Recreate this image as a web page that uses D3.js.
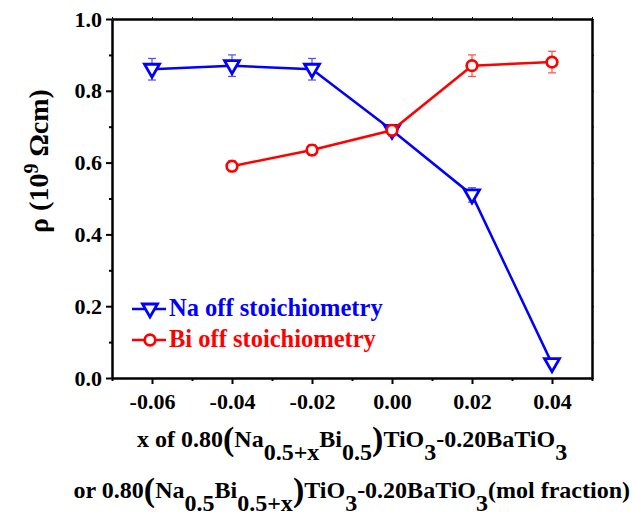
<!DOCTYPE html>
<html>
<head>
<meta charset="utf-8">
<script src="https://cdn.jsdelivr.net/npm/d3@7"></script>
<style>
  html, body { margin: 0; padding: 0; background: #fff; }
  svg { display: block; }
</style>
</head>
<body>
<svg id="chart" width="632" height="519"></svg>
<script>
// Composition (mol fraction offset x)
const naX = [-0.06, -0.04, -0.02, 0.00, 0.02, 0.04];
const naValues = [0.86, 0.87, 0.86, 0.69, 0.51, 0.04];
const naErrors = [0.03, 0.03, 0.03, 0.015, 0.02, 0.01];

const biX = [-0.04, -0.02, 0.00, 0.02, 0.04];
const biValues = [0.59, 0.635, 0.69, 0.87, 0.88];
const biErrors = [0.015, 0.015, 0.015, 0.03, 0.03];

const xTicks = [-0.06, -0.04, -0.02, 0.00, 0.02, 0.04];
const xTickLabels = ["-0.06", "-0.04", "-0.02", "0.00", "0.02", "0.04"];
const xMinorTicks = [-0.07, -0.05, -0.03, -0.01, 0.01, 0.03, 0.05];
const yTicks = [0.0, 0.2, 0.4, 0.6, 0.8, 1.0];
const yTickLabels = ["0.0", "0.2", "0.4", "0.6", "0.8", "1.0"];
const yMinorTicks = [0.1, 0.3, 0.5, 0.7, 0.9];

const seriesNames = ["Na off stoichiometry", "Bi off stoichiometry"];

const FONT = '"Liberation Serif", "Times New Roman", serif';
const BLUE = "#0000ff", RED = "#ff0000";
const svg = d3.select("#chart");
svg.append("rect").attr("width", 632).attr("height", 519).attr("fill", "#fff");

function serif(sel) { return sel.style("font-family", FONT).style("font-weight", "bold"); }

const x = d3.scaleLinear().domain([-0.07, 0.05]).range([112, 592]);
const y = d3.scaleLinear().domain([0, 1]).range([378, 19]);

// axes
const axisW = 2.5;
function styleAxis(g) {
  g.selectAll(".domain").attr("stroke", "#000").attr("stroke-width", axisW);
  g.selectAll(".tick line").attr("stroke", "#000").attr("stroke-width", 2);
  serif(g.selectAll(".tick text").attr("fill", "#000").style("font-size", "22px"));
}
const gx = svg.append("g").attr("transform", `translate(0,${y(0)})`)
  .call(d3.axisBottom(x).tickValues(xTicks).tickSize(6).tickSizeOuter(0).tickPadding(9)
    .tickFormat((d, i) => xTickLabels[i]));
styleAxis(gx);
svg.append("g").attr("transform", `translate(0,${y(0)})`)
  .call(d3.axisBottom(x).tickValues(xMinorTicks).tickSize(3).tickSizeOuter(0).tickFormat(""))
  .call(g => { g.select(".domain").remove(); g.selectAll(".tick line").attr("stroke", "#000").attr("stroke-width", 2); });

const gy = svg.append("g").attr("transform", `translate(${x(-0.07)},0)`)
  .call(d3.axisLeft(y).tickValues(yTicks).tickSize(6).tickSizeOuter(0).tickPadding(4)
    .tickFormat((d, i) => yTickLabels[i]));
styleAxis(gy);
svg.append("g").attr("transform", `translate(${x(-0.07)},0)`)
  .call(d3.axisLeft(y).tickValues(yMinorTicks).tickSize(3).tickSizeOuter(0).tickFormat(""))
  .call(g => { g.select(".domain").remove(); g.selectAll(".tick line").attr("stroke", "#000").attr("stroke-width", 2); });

// top and right frame with small ticks
svg.append("g").attr("transform", `translate(0,${y(1)})`)
  .call(d3.axisTop(x).tickValues(xTicks.concat(xMinorTicks)).tickSize(2).tickSizeOuter(0).tickFormat(""))
  .call(g => { g.select(".domain").attr("stroke", "#000").attr("stroke-width", axisW); g.selectAll(".tick line").attr("stroke", "#000").attr("stroke-width", 1); });
svg.append("g").attr("transform", `translate(${x(0.05)},0)`)
  .call(d3.axisRight(y).tickValues(yTicks.concat(yMinorTicks)).tickSize(2).tickSizeOuter(0).tickFormat(""))
  .call(g => { g.select(".domain").attr("stroke", "#000").attr("stroke-width", axisW); g.selectAll(".tick line").attr("stroke", "#000").attr("stroke-width", 1); });

// series
const naData = naX.map((v, i) => ({ x: v, y: naValues[i], e: naErrors[i] }));
const biData = biX.map((v, i) => ({ x: v, y: biValues[i], e: biErrors[i] }));
const line = d3.line().x(d => x(d.x)).y(d => y(d.y));

function errorBars(data, color) {
  const g = svg.append("g").attr("stroke", color).attr("stroke-width", 1.2).attr("opacity", 0.7);
  data.forEach(d => {
    const cx = x(d.x), y1 = y(d.y + d.e), y2 = y(d.y - d.e);
    g.append("line").attr("x1", cx).attr("x2", cx).attr("y1", y1).attr("y2", y2);
    g.append("line").attr("x1", cx - 4).attr("x2", cx + 4).attr("y1", y1).attr("y2", y1);
    g.append("line").attr("x1", cx - 4).attr("x2", cx + 4).attr("y1", y2).attr("y2", y2);
  });
}
function triPath(cx, cy) {
  return `M${cx - 7.5},${cy - 5}L${cx + 7.5},${cy - 5}L${cx},${cy + 8}Z`;
}

errorBars(naData, BLUE);
svg.append("path").datum(naData).attr("d", line).attr("fill", "none").attr("stroke", BLUE).attr("stroke-width", 2.5);
svg.append("g").selectAll("path").data(naData).join("path")
  .attr("d", d => triPath(x(d.x), y(d.y)))
  .attr("fill", "#fff").attr("stroke", BLUE).attr("stroke-width", 2.8).attr("stroke-linejoin", "miter");

errorBars(biData, RED);
svg.append("path").datum(biData).attr("d", line).attr("fill", "none").attr("stroke", RED).attr("stroke-width", 2.5);
svg.append("g").selectAll("circle").data(biData).join("circle")
  .attr("cx", d => x(d.x)).attr("cy", d => y(d.y)).attr("r", 5.3)
  .attr("fill", "#fff").attr("stroke", RED).attr("stroke-width", 2.7);

// legend
const leg = svg.append("g");
[[BLUE, "tri"], [RED, "circ"]].forEach(([c, m], i) => {
  const ly = 309 + i * 31;
  leg.append("line").attr("x1", 132).attr("x2", 166).attr("y1", ly).attr("y2", ly).attr("stroke", c).attr("stroke-width", 2.5);
  if (m === "tri") leg.append("path").attr("d", triPath(150, ly)).attr("fill", "#fff").attr("stroke", c).attr("stroke-width", 2.8);
  else leg.append("circle").attr("cx", 150).attr("cy", ly).attr("r", 5.3).attr("fill", "#fff").attr("stroke", c).attr("stroke-width", 2.7);
  serif(leg.append("text").attr("x", 169).attr("y", ly + 7).attr("fill", c).style("font-size", "24.5px"))
    .text(seriesNames[i]);
});

// rich text helper: parts = [text, fontSize, baselineShift]
function richText(xPos, yPos, parts, anchor) {
  const t = serif(svg.append("text").attr("x", xPos).attr("y", yPos).attr("fill", "#000")
    .attr("text-anchor", anchor || "start"));
  let prev = 0;
  parts.forEach(([s, fs, sh]) => {
    t.append("tspan").attr("dy", sh - prev).style("font-size", fs + "px").text(s);
    prev = sh;
  });
  return t;
}

const F = 24, P = 34, S = 13;
richText(137, 447, [
  ["x of 0.80", F, 0], ["(", P, 3], ["Na", F, 0], ["0.5+x", F, S], ["Bi", F, 0], ["0.5", F, S],
  [")", P, 3], ["TiO", F, 0], ["3", F, S], ["-0.20BaTiO", F, 0], ["3", F, S]
]);
richText(630, 498, [
  ["or 0.80", F, 0], ["(", P, 3], ["Na", F, 0], ["0.5", F, S], ["Bi", F, 0], ["0.5+x", F, S],
  [")", P, 3], ["TiO", F, 0], ["3", F, S], ["-0.20BaTiO", F, 0], ["3", F, S], ["(mol fraction)", F, 0]
], "end");

// y title
const yt = serif(svg.append("text").attr("transform", "translate(48,161) rotate(-90)")
  .attr("text-anchor", "middle").attr("fill", "#000").style("font-size", "28px"));
yt.append("tspan").text("ρ (10");
yt.append("tspan").attr("dy", -10).style("font-size", "20px").text("9");
yt.append("tspan").attr("dy", 10).text(" Ωcm)");
</script>
</body>
</html>
